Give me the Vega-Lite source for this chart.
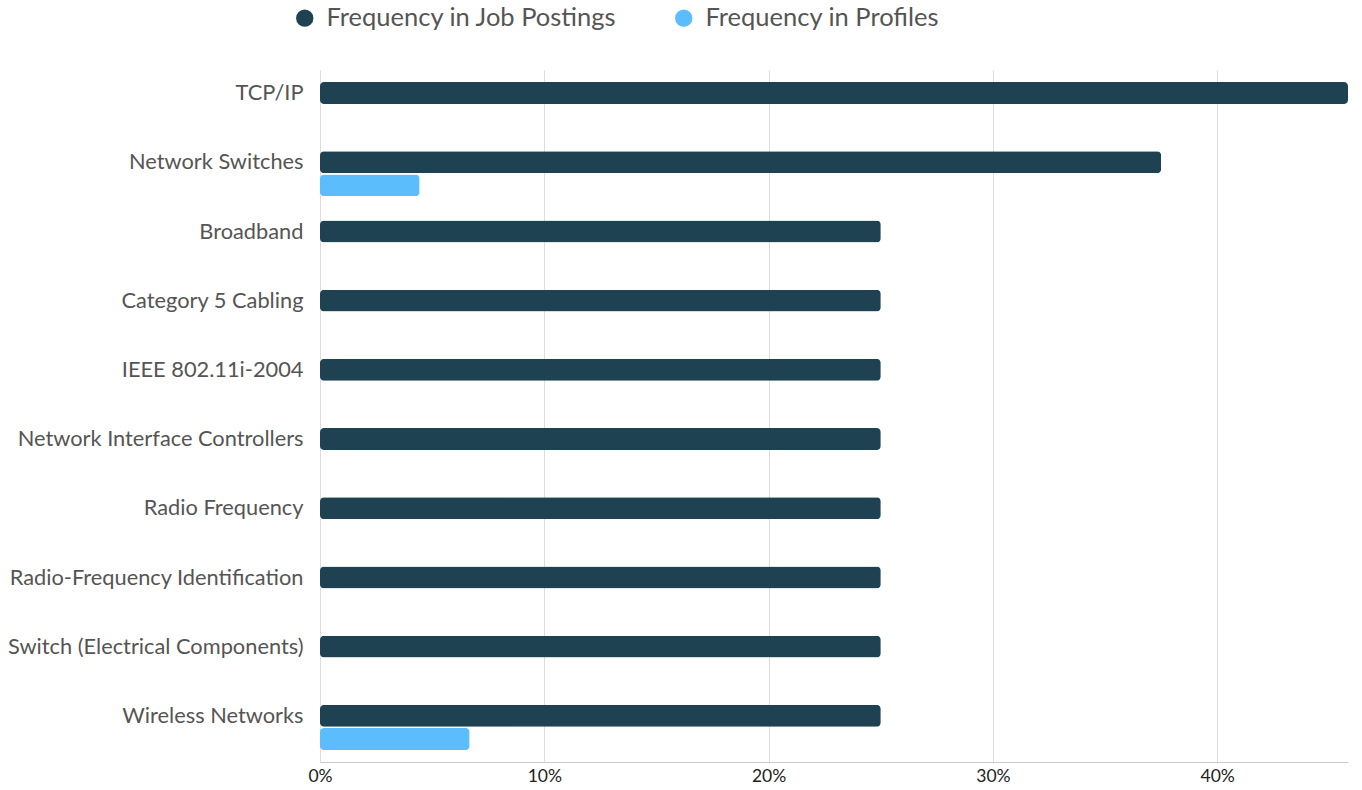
{
  "$schema": "https://vega.github.io/schema/vega-lite/v6.json",
  "width": 1028,
  "height": 692,
  "autosize": {"type": "none"},
  "padding": {"left": 320, "top": 70, "right": 14, "bottom": 28},
  "config": {
    "font": "Lato",
    "view": {"stroke": null}
  },
  "data": {
    "values": [
      {"skill": "TCP/IP", "series": "Frequency in Job Postings", "value": 0.4583},
      {"skill": "TCP/IP", "series": "Frequency in Profiles", "value": 0},
      {"skill": "Network Switches", "series": "Frequency in Job Postings", "value": 0.375},
      {"skill": "Network Switches", "series": "Frequency in Profiles", "value": 0.0444},
      {"skill": "Broadband", "series": "Frequency in Job Postings", "value": 0.25},
      {"skill": "Broadband", "series": "Frequency in Profiles", "value": 0},
      {"skill": "Category 5 Cabling", "series": "Frequency in Job Postings", "value": 0.25},
      {"skill": "Category 5 Cabling", "series": "Frequency in Profiles", "value": 0},
      {"skill": "IEEE 802.11i-2004", "series": "Frequency in Job Postings", "value": 0.25},
      {"skill": "IEEE 802.11i-2004", "series": "Frequency in Profiles", "value": 0},
      {"skill": "Network Interface Controllers", "series": "Frequency in Job Postings", "value": 0.25},
      {"skill": "Network Interface Controllers", "series": "Frequency in Profiles", "value": 0},
      {"skill": "Radio Frequency", "series": "Frequency in Job Postings", "value": 0.25},
      {"skill": "Radio Frequency", "series": "Frequency in Profiles", "value": 0},
      {"skill": "Radio-Frequency Identification", "series": "Frequency in Job Postings", "value": 0.25},
      {"skill": "Radio-Frequency Identification", "series": "Frequency in Profiles", "value": 0},
      {"skill": "Switch (Electrical Components)", "series": "Frequency in Job Postings", "value": 0.25},
      {"skill": "Switch (Electrical Components)", "series": "Frequency in Profiles", "value": 0},
      {"skill": "Wireless Networks", "series": "Frequency in Job Postings", "value": 0.25},
      {"skill": "Wireless Networks", "series": "Frequency in Profiles", "value": 0.0667}
    ]
  },
  "mark": {"type": "bar", "cornerRadius": 4},
  "encoding": {
    "y": {
      "field": "skill",
      "type": "nominal",
      "sort": null,
      "scale": {"paddingInner": 0.35, "paddingOuter": 0.175},
      "axis": {
        "title": null,
        "ticks": false,
        "domain": false,
        "labelFontSize": 21.8,
        "labelColor": "#555555",
        "labelPadding": 17,
        "labelOffset": -11.5,
        "labelLimit": 400
      }
    },
    "yOffset": {
      "field": "series",
      "type": "nominal",
      "sort": ["Frequency in Job Postings", "Frequency in Profiles"],
      "scale": {"paddingInner": 0.05}
    },
    "x": {
      "field": "value",
      "type": "quantitative",
      "scale": {"domain": [0, 0.4583], "nice": false},
      "axis": {
        "title": null,
        "format": ".0%",
        "values": [0, 0.1, 0.2, 0.3, 0.4],
        "labelFontSize": 17.5,
        "labelColor": "#222222",
        "labelPadding": 5,
        "ticks": false,
        "domainColor": "#cccccc",
        "gridColor": "#dddddd",
        "labelFlush": false
      }
    },
    "color": {
      "field": "series",
      "type": "nominal",
      "scale": {
        "domain": ["Frequency in Job Postings", "Frequency in Profiles"],
        "range": ["#1f4252", "#5bbdfc"]
      },
      "legend": {
        "title": null,
        "orient": "none",
        "direction": "horizontal",
        "legendX": -28,
        "legendY": -65,
        "symbolType": "circle",
        "symbolSize": 300,
        "symbolStrokeWidth": 0,
        "labelFontSize": 25.5,
        "labelColor": "#555555",
        "labelLimit": 500,
        "columnPadding": 54,
        "labelOffset": 9
      }
    }
  }
}
